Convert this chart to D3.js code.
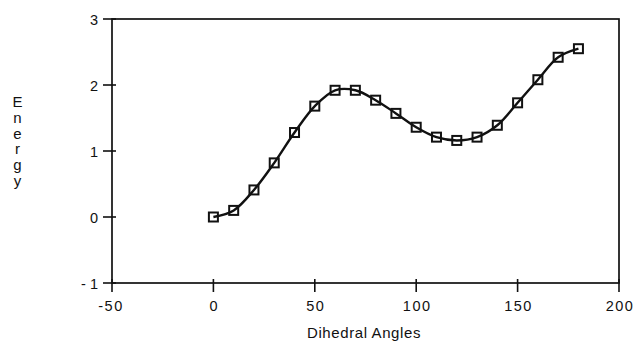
<!DOCTYPE html>
<html>
<head>
<meta charset="utf-8">
<script src="https://cdn.jsdelivr.net/npm/d3@7"></script>
<style>
  body { margin: 0; background: #fff; }
  text { font-family: "Liberation Sans", Arial, sans-serif; fill: #111; }
</style>
</head>
<body>
<svg id="chart" width="638" height="342"></svg>
<script>
// dihedral angle scan, energy per step
const angles = [0, 10, 20, 30, 40, 50, 60, 70, 80, 90, 100, 110, 120, 130, 140, 150, 160, 170, 180];
const energy = [0.0, 0.1, 0.41, 0.82, 1.28, 1.68, 1.92, 1.92, 1.77, 1.57, 1.36, 1.21, 1.16, 1.21, 1.39, 1.73, 2.08, 2.42, 2.55];
const xTicks = [-50, 0, 50, 100, 150, 200];
const yTicks = [-1, 0, 1, 2, 3];

const M = { left: 112, right: 619, top: 19, bottom: 283 };

const svg = d3.select('#chart');
const x = d3.scaleLinear().domain([-50, 200]).range([M.left, M.right]);
const y = d3.scaleLinear().domain([-1, 3]).range([M.bottom, M.top]);

// frame
svg.append('rect')
  .attr('x', M.left).attr('y', M.top)
  .attr('width', M.right - M.left).attr('height', M.bottom - M.top)
  .attr('fill', 'none').attr('stroke', '#111').attr('stroke-width', 1.7);

// ticks stick out more than they go in
const tickG = svg.append('g').attr('stroke', '#111').attr('stroke-width', 1.6);
yTicks.forEach(v => {
  tickG.append('line')
    .attr('x1', M.left - 9).attr('x2', M.left + 4)
    .attr('y1', y(v)).attr('y2', y(v));
});
xTicks.forEach(v => {
  tickG.append('line')
    .attr('x1', x(v)).attr('x2', x(v))
    .attr('y1', M.bottom - 4).attr('y2', M.bottom + 9);
});

// tick labels
svg.append('g').selectAll('text').data(yTicks).join('text')
  .attr('x', M.left - 14).attr('y', d => y(d) + 1)
  .attr('dy', '0.35em')
  .attr('text-anchor', 'end')
  .attr('font-size', 14.5)
  .text(d => d < 0 ? '- ' + Math.abs(d) : d);

svg.append('g').selectAll('text').data(xTicks).join('text')
  .attr('x', d => x(d) + (d < 0 ? -1 : 1)).attr('y', M.bottom + 28)
  .attr('text-anchor', 'middle')
  .attr('font-size', 14.5)
  .attr('letter-spacing', '1.5px')
  .text(d => d < 0 ? '-' + Math.abs(d) : d);

// axis titles
svg.append('text')
  .attr('x', 364).attr('y', 338)
  .attr('text-anchor', 'middle')
  .attr('font-size', 15)
  .attr('letter-spacing', '0.6px')
  .text('Dihedral Angles');

// stacked letters, one text element
svg.append('text')
  .attr('x', 17.5).attr('y', 93)
  .attr('font-size', 15)
  .style('writing-mode', 'vertical-rl')
  .style('text-orientation', 'upright')
  .attr('letter-spacing', '-1.2px')
  .text('Energy');

// curve
const pts = angles.map((a, i) => [a, energy[i]]);
svg.append('path')
  .datum(pts)
  .attr('fill', 'none')
  .attr('stroke', '#111')
  .attr('stroke-width', 2.4)
  .attr('d', d3.line().x(d => x(d[0])).y(d => y(d[1])).curve(d3.curveCatmullRom));

// square markers
const S = 9;
svg.append('g').selectAll('rect').data(pts).join('rect')
  .attr('x', d => x(d[0]) - S / 2).attr('y', d => y(d[1]) - S / 2)
  .attr('width', S).attr('height', S)
  .attr('fill', 'none')
  .attr('stroke', '#111')
  .attr('stroke-width', 2);
</script>
</body>
</html>
